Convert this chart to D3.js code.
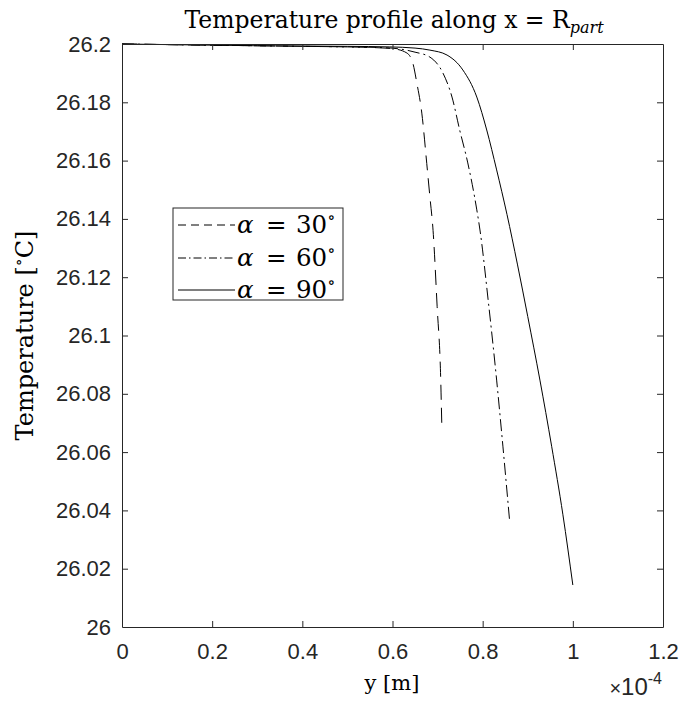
<!DOCTYPE html>
<html>
<head>
<meta charset="utf-8">
<script src="https://cdn.jsdelivr.net/npm/d3@7"></script>
<style>
  html, body { margin: 0; padding: 0; background: #fff; }
  svg { display: block; }
</style>
</head>
<body>
<svg id="chart" width="683" height="710"></svg>
<script>
// ---- data (x in units of 1e-4 m, temperature in °C) ----
const xTicks = [0, 0.2, 0.4, 0.6, 0.8, 1, 1.2];
const yTicks = [26, 26.02, 26.04, 26.06, 26.08, 26.1, 26.12, 26.14, 26.16, 26.18, 26.2];
const seriesLabels = ["30", "60", "90"];

const x30 = [0, 0.1, 0.2, 0.3, 0.4, 0.5, 0.57, 0.601, 0.632, 0.645, 0.654, 0.665, 0.676, 0.683, 0.69, 0.699, 0.707, 0.7095];
const y30 = [26.2, 26.1998, 26.1996, 26.1994, 26.1992, 26.199, 26.1987, 26.1984, 26.1969, 26.1935, 26.1866, 26.1763, 26.159, 26.1475, 26.136, 26.110, 26.0847, 26.0683];

const x60 = [0, 0.1, 0.2, 0.3, 0.4, 0.5, 0.57, 0.616, 0.65, 0.683, 0.712, 0.732, 0.749, 0.767, 0.787, 0.794, 0.813, 0.831, 0.845, 0.86];
const y60 = [26.2, 26.1998, 26.1996, 26.1994, 26.1992, 26.199, 26.1988, 26.1983, 26.1972, 26.1955, 26.190, 26.1818, 26.1705, 26.1592, 26.1431, 26.1362, 26.111, 26.0847, 26.0618, 26.036];

const x90 = [0, 0.1, 0.2, 0.3, 0.4, 0.5, 0.594, 0.65, 0.683, 0.721, 0.756, 0.787, 0.809, 0.831, 0.854, 0.877, 0.9, 0.927, 0.953, 0.978, 1.0];
const y90 = [26.2, 26.1998, 26.1996, 26.1994, 26.1993, 26.1992, 26.199, 26.1986, 26.1979, 26.1962, 26.1911, 26.1818, 26.1705, 26.1568, 26.1415, 26.1245, 26.1065, 26.0847, 26.062, 26.0385, 26.0144];

// ---- layout ----
const L = 122, R = 663, T = 44, B = 627;
const axisColor = "#262626";
const serif = "'DejaVu Serif', 'Liberation Serif', serif";
const sans = "'Liberation Sans', Arial, sans-serif";

const svg = d3.select("#chart");
const x = d3.scaleLinear().domain([0, 1.2]).range([L, R]);
const y = d3.scaleLinear().domain([26, 26.2]).range([B, T]);

const series = [
  { xs: x30, ys: y30, dash: "15,8", legDash: "8,5" },
  { xs: x60, ys: y60, dash: "12,4,2,4", legDash: "8,3,1.5,3" },
  { xs: x90, ys: y90, dash: null, legDash: null }
];

// curves
const line = d3.line().x(d => x(d[0])).y(d => y(d[1])).curve(d3.curveMonotoneX);
const plot = svg.append("g");
series.forEach(s => {
  const pts = s.xs.map((v, i) => [v, s.ys[i]]);
  plot.append("path")
    .attr("d", line(pts))
    .attr("fill", "none")
    .attr("stroke", "#000")
    .attr("stroke-width", 1)
    .attr("stroke-dasharray", s.dash);
});

// axes (ticks inward on all sides)
const tickLen = 6;
const fmtX = d => String(d);
const fmtY = d => String(+d.toFixed(2));

const gx = svg.append("g").attr("transform", `translate(0,${B})`)
  .call(d3.axisBottom(x).tickValues(xTicks).tickFormat(fmtX).tickSizeInner(-tickLen).tickSizeOuter(0).tickPadding(16));
const gxTop = svg.append("g").attr("transform", `translate(0,${T})`)
  .call(d3.axisTop(x).tickValues(xTicks).tickFormat("").tickSizeInner(-tickLen).tickSizeOuter(0));
const gy = svg.append("g").attr("transform", `translate(${L},0)`)
  .call(d3.axisLeft(y).tickValues(yTicks).tickFormat(fmtY).tickSizeInner(-tickLen).tickSizeOuter(0).tickPadding(11));
const gyR = svg.append("g").attr("transform", `translate(${R},0)`)
  .call(d3.axisRight(y).tickValues(yTicks).tickFormat("").tickSizeInner(-tickLen).tickSizeOuter(0));

[gx, gxTop, gy, gyR].forEach(g => {
  g.select(".domain").attr("stroke", axisColor).attr("stroke-width", 1);
  g.selectAll(".tick line").attr("stroke", axisColor).attr("stroke-width", 1);
  g.selectAll(".tick text").attr("fill", axisColor).style("font-family", sans).style("font-size", "22px");
});
[gx, gxTop].forEach(g => g.selectAll(".tick").filter(d => d === 0 || d === 1.2).select("line").remove());
[gy, gyR].forEach(g => g.selectAll(".tick").filter(d => d === 26 || d === 26.2).select("line").remove());

// title
const title = svg.append("text")
  .attr("x", 394).attr("y", 28)
  .attr("text-anchor", "middle")
  .style("font-family", serif).style("font-size", "23.5px").attr("fill", "#000");
title.append("tspan").text("Temperature profile along x = R");
title.append("tspan").attr("dy", 5).style("font-style", "italic").style("font-size", "16px").text("part");

// x label
svg.append("text")
  .attr("x", 392).attr("y", 690)
  .attr("text-anchor", "middle")
  .style("font-family", serif).style("font-size", "21px").attr("fill", "#000")
  .text("y [m]");

// exponent
const ex = svg.append("text")
  .attr("x", 662).attr("y", 695)
  .attr("text-anchor", "end")
  .style("font-family", sans).attr("fill", axisColor);
ex.append("tspan").style("font-size", "20px").text("\u00d7");
ex.append("tspan").style("font-size", "24px").text("10");
ex.append("tspan").attr("dy", -11).style("font-size", "16px").text("-4");

// y label
const yl = svg.append("text")
  .attr("transform", `translate(33,${(T + B) / 2}) rotate(-90)`)
  .attr("text-anchor", "middle")
  .style("font-family", serif).style("font-size", "24px").attr("fill", "#000");
yl.append("tspan").text("Temperature [");
yl.append("tspan").attr("dy", -9).style("font-size", "16px").text("\u2218");
yl.append("tspan").attr("dy", 9).text("C]");

// legend
const lg = svg.append("g");
const lx0 = 173, ly0 = 208, lw = 170, lh = 92;
lg.append("rect").attr("x", lx0).attr("y", ly0).attr("width", lw).attr("height", lh)
  .attr("fill", "#fff").attr("stroke", axisColor).attr("stroke-width", 1);
const rowY = [225, 258, 290];
series.forEach((s, i) => {
  lg.append("line")
    .attr("x1", 178).attr("x2", 235).attr("y1", rowY[i]).attr("y2", rowY[i])
    .attr("stroke", "#000").attr("stroke-width", 1)
    .attr("stroke-dasharray", s.legDash);
  const t = lg.append("text").attr("y", rowY[i] + 8)
    .style("font-family", serif).style("font-size", "24.5px").attr("fill", "#000");
  t.append("tspan").attr("x", 237).style("font-style", "italic").text("\u03b1");
  t.append("tspan").attr("x", 266).text("=");
  t.append("tspan").attr("x", 296).text(seriesLabels[i]);
  t.append("tspan").attr("dy", -10).style("font-size", "17px").text("\u2218");
});
</script>
</body>
</html>
